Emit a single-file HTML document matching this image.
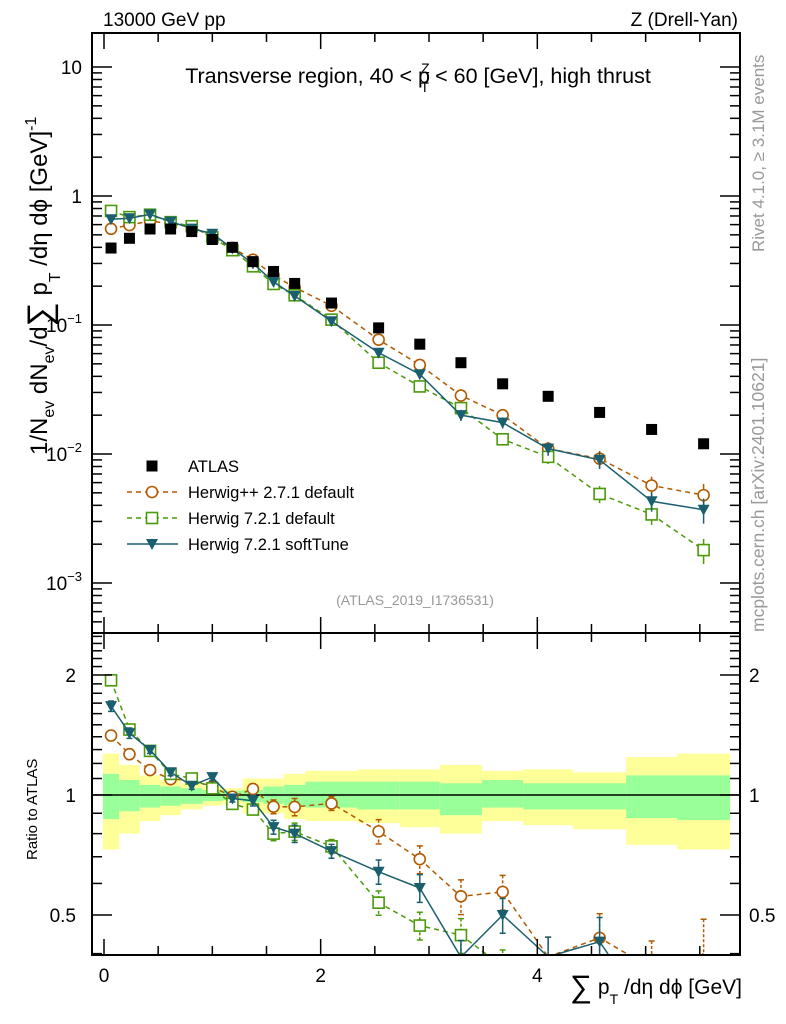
<!DOCTYPE html>
<html><head><meta charset="utf-8"><style>
html,body{margin:0;padding:0;background:#fff;overflow:hidden;width:786px;height:1024px}
svg{display:block;font-family:"Liberation Sans",Arial,sans-serif;overflow:hidden}
</style></head><body>
<svg id="chart" width="786" height="1024" viewBox="0 0 786 1024" xmlns="http://www.w3.org/2000/svg">
<g id="bands"></g>
<g id="grid"></g>
<g id="series"></g>
<g id="axes"></g>
<text x="103" y="26" font-size="19">13000 GeV pp</text>
<text x="738" y="26" font-size="19" text-anchor="end">Z (Drell-Yan)</text>
<text x="418" y="83" font-size="21.5" text-anchor="middle">Transverse region, 40 &lt; p<tspan font-size="14" dy="-10" dx="-9">Z</tspan><tspan font-size="14" dy="19" dx="-9">T</tspan><tspan dy="-9"> &lt; 60 [GeV], high thrust</tspan></text>
<text x="415" y="605" font-size="14" fill="#999" text-anchor="middle">(ATLAS_2019_I1736531)</text>
<text transform="translate(764,252) rotate(-90)" font-size="17" fill="#999">Rivet 4.1.0, ≥ 3.1M events</text>
<text transform="translate(764,632) rotate(-90)" font-size="17.5" fill="#999">mcplots.cern.ch [arXiv:2401.10621]</text>
<text transform="translate(47,455) rotate(-90)" font-size="24">1/N<tspan font-size="16" dy="7">ev</tspan><tspan dy="-7"> dN</tspan><tspan font-size="16" dy="7">ev</tspan><tspan dy="-7">/d</tspan><tspan font-size="34" dy="4">∑</tspan><tspan dy="-4"> p</tspan><tspan font-size="16" dy="13">T</tspan><tspan dy="-13"> /dη dϕ  [GeV]</tspan><tspan font-size="16" dy="-11">-1</tspan></text>
<text transform="translate(37,860) rotate(-90)" font-size="15">Ratio to ATLAS</text>
<text x="742" y="994" font-size="21" text-anchor="end"><tspan font-size="31" dy="3">∑</tspan><tspan dy="-3"> p</tspan><tspan font-size="14" dy="10">T</tspan><tspan dy="-10"> /dη dϕ [GeV]</tspan></text>
<g id="legend"></g>
</svg>
<script>
const xEdges=[-0.01,0.14,0.33,0.52,0.71,0.91,1.09,1.28,1.47,1.66,1.86,2.34,2.73,3.1,3.49,3.87,4.33,4.82,5.29,5.78];
const atlas=[0.395,0.47,0.555,0.555,0.53,0.46,0.40,0.31,0.26,0.21,0.148,0.095,0.071,0.051,0.035,0.028,0.021,0.0155,0.012];
const herwigpp=[0.557,0.595,0.641,0.608,0.578,0.483,0.396,0.321,0.243,0.196,0.141,0.077,0.049,0.0284,0.020,0.011,0.0092,0.0057,0.0048];
const herwig72=[0.766,0.686,0.716,0.627,0.583,0.478,0.38,0.285,0.208,0.170,0.110,0.051,0.0334,0.0227,0.013,0.0095,0.0049,0.0034,0.0018];
const softTune=[0.66,0.672,0.72,0.633,0.559,0.51,0.392,0.30,0.216,0.168,0.107,0.061,0.0415,0.020,0.0175,0.011,0.009,0.0043,0.0037];
const relErr=[0.03,0.03,0.02,0.02,0.02,0.02,0.02,0.03,0.04,0.05,0.04,0.07,0.08,0.1,0.1,0.12,0.15,0.17,0.22];
const greenUp=[1.13,1.09,1.06,1.05,1.04,1.03,1.025,1.03,1.05,1.06,1.08,1.08,1.08,1.07,1.09,1.07,1.07,1.12,1.12];
const greenDn=[0.87,0.91,0.93,0.94,0.95,0.965,0.97,0.96,0.95,0.94,0.93,0.92,0.92,0.89,0.93,0.92,0.92,0.875,0.865];
const yellowUp=[1.27,1.19,1.12,1.09,1.07,1.05,1.04,1.10,1.10,1.13,1.15,1.16,1.16,1.19,1.15,1.16,1.14,1.245,1.27];
const yellowDn=[0.73,0.80,0.86,0.89,0.92,0.94,0.95,0.90,0.90,0.87,0.86,0.85,0.83,0.80,0.86,0.84,0.82,0.75,0.73];
const xTicks=[0,2,4];
const yTicks=[10,1,0.1,0.01,0.001];
const yTickLabels=["10","1","10^-1","10^-2","10^-3"];
const rTicks=[2,1,0.5];
const rTickLabels=["2","1","0.5"];

const NS="http://www.w3.org/2000/svg";
const L=92,R=740,T=33,MB=633,RB=955;
const X=v=>104+v*108.33;
const Y=v=>196-129*Math.log10(v);
const RY=v=>795-120*Math.log2(v);
function mk(parent,tag,attrs){const e=document.createElementNS(NS,tag);for(const k in attrs)e.setAttribute(k,attrs[k]);document.getElementById(parent).appendChild(e);return e;}
const ctr=i=>(xEdges[i]+xEdges[i+1])/2;
const clampR=y=>Math.max(MB,Math.min(RB,y));

for(let i=0;i<atlas.length;i++){
  const x0=X(xEdges[i]),x1=X(xEdges[i+1]);
  let r=mk('bands','rect',{x:x0,y:RY(yellowUp[i]),width:x1-x0,height:RY(yellowDn[i])-RY(yellowUp[i]),fill:'#ffff99'});
  
  
  r=mk('bands','rect',{x:x0,y:RY(greenUp[i]),width:x1-x0,height:RY(greenDn[i])-RY(greenUp[i]),fill:'#99ff99'});
  
  
}
let ln=mk('bands','line',{x1:L,x2:R,y1:RY(1),y2:RY(1),stroke:'#000','stroke-width':1.5});



function marker(g,type,cx,cy,col){
  let m;
  if(type==='circle')m=mk(g,'circle',{cx:cx,cy:cy,r:5.5,fill:'#fff',stroke:col,'stroke-width':1.6});
  else if(type==='square')m=mk(g,'rect',{x:cx-5.5,y:cy-5.5,width:11,height:11,fill:'#fff',stroke:col,'stroke-width':1.6});
  else if(type==='tri')m=mk(g,'path',{d:`M${cx-6},${cy-5}L${cx+6},${cy-5}L${cx},${cy+6}Z`,fill:col});
  else m=mk(g,'rect',{x:cx-5.5,y:cy-5.5,width:11,height:11,fill:'#000'});
  return m;
}
// clip polyline to y range [MB,RB-1]
function clippedPath(pts,ymin,ymax){
  let d='';let pen=false;
  for(let i=0;i<pts.length-1;i++){
    let [x1,y1]=pts[i],[x2,y2]=pts[i+1];
    let t0=0,t1=1;const dy=y2-y1;
    if(dy!==0){
      let ta=(ymin-y1)/dy,tb=(ymax-y1)/dy;
      if(ta>tb)[ta,tb]=[tb,ta];
      t0=Math.max(t0,ta);t1=Math.min(t1,tb);
    }else if(y1<ymin||y1>ymax){pen=false;continue;}
    if(t0>=t1){pen=false;continue;}
    const ax=x1+(x2-x1)*t0,ay=y1+dy*t0,bx=x1+(x2-x1)*t1,by=y1+dy*t1;
    if(!pen||t0>0)d+=`M${ax.toFixed(1)},${ay.toFixed(1)}`;
    d+=`L${bx.toFixed(1)},${by.toFixed(1)}`;
    pen=(t1===1);
  }
  return d;
}
const specs=[
 {id:'herwigpp',vals:herwigpp,col:'#b35900',type:'circle',dash:'5,4',name:'Herwig++ 2.7.1 default'},
 {id:'herwig72',vals:herwig72,col:'#4a9a0a',type:'square',dash:'5,4',name:'Herwig 7.2.1 default'},
 {id:'softtune',vals:softTune,col:'#1a5f6e',type:'tri',dash:'',name:'Herwig 7.2.1 softTune'}
];
specs.forEach((s,si)=>{
  const gm=mk('series','g',{});
  gm.setAttribute('id','gm'+si);
  
  
  const gr=mk('series','g',{});
  gr.setAttribute('id','gr'+si);
  
  
  const pm=s.vals.map((v,i)=>`${X(ctr(i))},${Y(v)}`).join(' ');
  const prPts=s.vals.map((v,i)=>[X(ctr(i)),RY(v/atlas[i])]);
  mk('gm'+si,'polyline',{points:pm,fill:'none',stroke:s.col,'stroke-width':1.5,'stroke-dasharray':s.dash});
  mk('gr'+si,'path',{d:clippedPath(prPts,MB+1,RB-1),fill:'none',stroke:s.col,'stroke-width':1.5,'stroke-dasharray':s.dash});
  s.vals.forEach((v,i)=>{
    const cx=X(ctr(i));
    const e=relErr[i];
    mk('gm'+si,'line',{x1:cx,x2:cx,y1:Y(v*(1+e)),y2:Y(v*(1-e)),stroke:s.col,'stroke-width':1.5});
    const m1=marker('gm'+si,s.type,cx,Y(v),s.col);
    
    
    const r=v/atlas[i];
    const yu=RY(r*(1+e)),yd=RY(r*(1-e));
    if(yu<RB){
      mk('gr'+si,'line',{x1:cx,x2:cx,y1:clampR(yu),y2:clampR(yd),stroke:s.col,'stroke-width':1.5,'stroke-dasharray':s.dash?'3,2':''});
      mk('gr'+si,'line',{x1:cx-3,x2:cx+3,y1:yu,y2:yu,stroke:s.col,'stroke-width':1.5});
      if(yd<RB)mk('gr'+si,'line',{x1:cx-3,x2:cx+3,y1:yd,y2:yd,stroke:s.col,'stroke-width':1.5});
    }
    if(RY(r)<RB-4){
      const m2=marker('gr'+si,s.type,cx,RY(r),s.col);
      
      
    }
  });
});
atlas.forEach((v,i)=>{
  const m=marker('series','data',X(ctr(i)),Y(v),'#000');
  
  
});

['main','ratio'].forEach(p=>{
  const y0=p==='main'?T:MB,y1=p==='main'?MB:RB;
  const f=mk('axes','rect',{x:L,y:y0,width:R-L,height:y1-y0,fill:'none',stroke:'#000','stroke-width':2});
  
  
  for(let v=0;v<=5.5;v+=0.5){
    const x=X(v);const big=Math.abs(v-Math.round(v/2)*2)<1e-6;const len=big?16:9;
    mk('axes','line',{x1:x,x2:x,y1:y1,y2:y1-len,stroke:'#000','stroke-width':1.5});
    mk('axes','line',{x1:x,x2:x,y1:y0,y2:y0+len,stroke:'#000','stroke-width':1.5});
  }
});
xTicks.forEach(v=>{
  const t=mk('axes','text',{x:X(v),y:982,'font-size':19,'text-anchor':'middle'});
  t.textContent=String(v);
  
  
});
for(let d=-4;d<=1;d++){
  for(let k=1;k<10;k++){
    const v=k*Math.pow(10,d);const y=Y(v);if(y<T||y>MB)continue;
    const len=k===1?20:10;
    mk('axes','line',{x1:L,x2:L+len,y1:y,y2:y,stroke:'#000','stroke-width':1.5});
    mk('axes','line',{x1:R,x2:R-len,y1:y,y2:y,stroke:'#000','stroke-width':1.5});
  }
}
yTicks.forEach((v,i)=>{
  const lab=yTickLabels[i];
  const t=mk('axes','text',{x:82,y:Y(v)+7,'font-size':19,'text-anchor':'end'});
  
  
  if(lab.includes('^')){const [b,e]=lab.split('^');t.innerHTML=b+'<tspan font-size="13" dy="-9">'+e.replace('-','−')+'</tspan>';}
  else t.textContent=lab;
});
for(let v=0.4;v<=2.55;v+=0.1){
  const y=RY(v);if(y<MB||y>RB)continue;
  const big=[0.5,1,2].some(b=>Math.abs(b-v)<1e-6);const len=big?20:10;
  mk('axes','line',{x1:L,x2:L+len,y1:y,y2:y,stroke:'#000','stroke-width':1.5});
  mk('axes','line',{x1:R,x2:R-len,y1:y,y2:y,stroke:'#000','stroke-width':1.5});
}
rTicks.forEach((v,i)=>{
  const t=mk('axes','text',{x:76,y:RY(v)+7,'font-size':19,'text-anchor':'end'});
  t.textContent=rTickLabels[i];
  
  
  const t2=mk('axes','text',{x:749,y:RY(v)+7,'font-size':19});
  t2.textContent=rTickLabels[i];
  
  
});

const lg=[{name:'ATLAS',type:'data',col:'#000',dash:''}].concat(specs);
lg.forEach((s,i)=>{
  const y=466+i*26;
  if(s.type!=='data'){
    const l=mk('legend','line',{x1:127,x2:178,y1:y,y2:y,stroke:s.col,'stroke-width':1.5,'stroke-dasharray':s.dash});
    
    
  }
  const m=marker('legend',s.type,152,y,s.col);
  
  
  const t=mk('legend','text',{x:188,y:y+6,'font-size':16.5});
  t.textContent=s.name;
  
  
});
</script>
</body></html>
